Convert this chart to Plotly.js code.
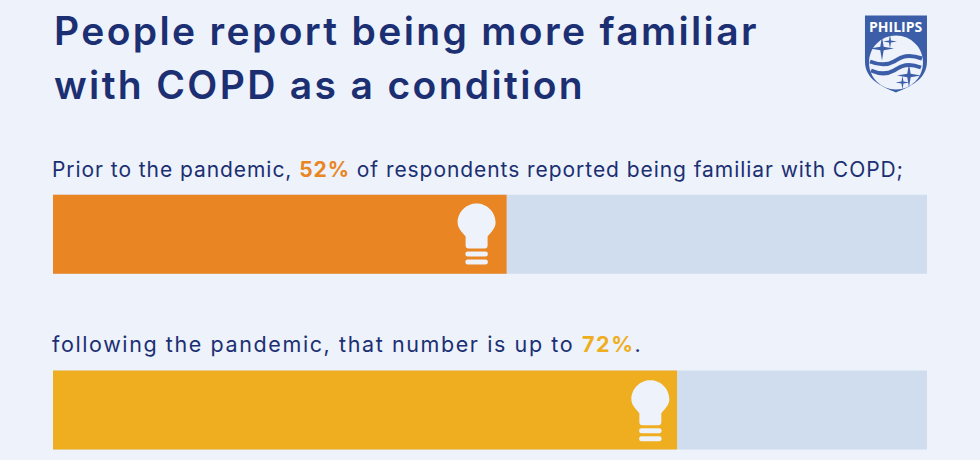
<!DOCTYPE html>
<html><head><meta charset="utf-8">
<script src="https://cdn.plot.ly/plotly-3.0.1.min.js"></script>
<style>html,body{margin:0;padding:0;background:#edf2fb}
.annotation[data-index="0"] text,.annotation[data-index="1"] text{letter-spacing:2.35px}
.annotation[data-index="2"] text{letter-spacing:0.94px}
.annotation[data-index="3"] text{letter-spacing:1.6px}
</style></head>
<body><div id="chart" style="width:980px;height:460px"></div>
<script>
const periods = ["Following the pandemic", "Prior to the pandemic"];
const familiarShare = [71.4, 51.9];
const remainderTrack = [100, 100];
const barColors = ["#eeae20", "#e98522"];
const titleLines = ["People report being more familiar", "with COPD as a condition"];
const priorText = 'Prior to the pandemic, <b><span style="color:#e98522">52%</span></b> of respondents reported being familiar with COPD;';
const afterText = 'following the pandemic, that number is up to <b><span style="color:#eeae20">72%</span></b>.';
const bulbOffsets = [-26.7, -30];
const navy = "#1b2f72", bg = "#edf2fb", logoBlue = "#3c5ea8", track = "#d0ddee";
const FONT = "Inter, 'Open Sans', sans-serif";

function bulbShapes(xv, yv, dx, up) {
  const c = (x, y) => (dx + x) + "," + (up + y);
  const s = {type:"path", xref:"x", yref:"y", xsizemode:"pixel", ysizemode:"pixel",
             xanchor:xv, yanchor:yv, fillcolor:bg, line:{width:0}};
  return [
    {...s, path:"M"+c(-11,-14)+" C"+c(-14,-10)+" "+c(-19,-6)+" "+c(-19,0)+" C"+c(-19,11)+" "+c(-10,19)+" "+c(0,19)+
      " C"+c(10,19)+" "+c(19,11)+" "+c(19,0)+" C"+c(19,-6)+" "+c(14,-10)+" "+c(11,-14)+
      " L"+c(11,-23)+" C"+c(11,-25)+" "+c(10,-26)+" "+c(8,-26)+" L"+c(-8,-26)+" C"+c(-10,-26)+" "+c(-11,-25)+" "+c(-11,-23)+" Z"},
    {...s, path:"M"+c(-9,-29)+" L"+c(9,-29)+" C"+c(12,-29)+" "+c(12,-34)+" "+c(9,-34)+" L"+c(-9,-34)+" C"+c(-12,-34)+" "+c(-12,-29)+" "+c(-9,-29)+" Z"},
    {...s, path:"M"+c(-9,-37)+" L"+c(9,-37)+" C"+c(12,-37)+" "+c(12,-42)+" "+c(9,-42)+" L"+c(-9,-42)+" C"+c(-12,-42)+" "+c(-12,-37)+" "+c(-9,-37)+" Z"}
  ];
}
function star(cx, cy, r) {
  const k = r * 0.14;
  return "M"+cx+","+(cy+r)+" L"+(cx+k)+","+(cy+k)+" L"+(cx+r)+","+cy+" L"+(cx+k)+","+(cy-k)+
         " L"+cx+","+(cy-r)+" L"+(cx-k)+","+(cy-k)+" L"+(cx-r)+","+cy+" L"+(cx-k)+","+(cy+k)+" Z";
}
function logoShapes() {
  const s = {type:"path", xref:"paper", yref:"paper", xsizemode:"pixel", ysizemode:"pixel",
             xanchor:0.9645, yanchor:0.8837};
  const fill = (path, col) => ({...s, path, fillcolor:col, line:{width:0}});
  const wave = (path) => ({...s, path, line:{color:logoBlue, width:4}, fillcolor:"rgba(0,0,0,0)"});
  return [
    fill("M-31,38 L31,38 L31,-8 C31,-26 14,-33 0,-39 C-14,-33 -31,-26 -31,-8 Z", logoBlue),
    fill("M-27,-9 C-27,6 -15,18 0,18 C15,18 27,6 27,-9 C27,-24 15,-36 0,-36 C-15,-36 -27,-24 -27,-9 Z", bg),
    wave("M-26,-8 C-16,-12 -9,-12 -2,-8 C6,-3 12,0 26,-5"),
    wave("M-25,-17 C-16,-21 -9,-21 -2,-17 C6,-12 12,-9 25,-14"),
    fill(star(-14,5,12), logoBlue), fill(star(-6,12,7), logoBlue),
    fill(star(13,-22,12), logoBlue), fill(star(6.5,-29,7), logoBlue)
  ];
}
const py = p => 1 - p / 460;
const note = (text, x, p, size, extra) => ({text, xref:"paper", yref:"paper", x, y:py(p), xanchor:"left", yanchor:"middle",
  showarrow:false, align:"left", font:{family:FONT, size, color:navy, ...(extra||{})}});

Plotly.newPlot("chart", [
  {type:"bar", orientation:"h", y:[0,1], x:remainderTrack, base:0, width:0.449, marker:{color:track, line:{width:0}}, hoverinfo:"skip"},
  {type:"bar", orientation:"h", y:[0,1], x:familiarShare, base:0, width:0.449, text:periods, textposition:"none", marker:{color:barColors, line:{width:0}}}
], {
  width:980, height:460, margin:{l:53, r:53, t:0, b:0, pad:0},
  paper_bgcolor:bg, plot_bgcolor:bg, barmode:"overlay", showlegend:false,
  xaxis:{range:[0,100], visible:false, fixedrange:true},
  yaxis:{range:[-0.284,2.333], visible:false, fixedrange:true},
  shapes:[...bulbShapes(familiarShare[1],1,bulbOffsets[1],11.8),
          ...bulbShapes(familiarShare[0],0,bulbOffsets[0],10.8),
          ...logoShapes()],
  annotations:[
    note(titleLines[0], -0.0012, 31, 39, {weight:600}),
    note(titleLines[1], -0.0012, 85, 39, {weight:600}),
    note(priorText, -0.0034, 169, 21),
    note(afterText, -0.0034, 344, 21.5),
    {text:"<b>PHILIPS</b>", xref:"paper", yref:"paper", x:0.9645, y:py(26.5), xanchor:"center", yanchor:"middle", showarrow:false,
     font:{family:"'Open Sans', sans-serif", size:14, color:"#ffffff"}}
  ]
}, {staticPlot:true, displayModeBar:false});
</script></body></html>
